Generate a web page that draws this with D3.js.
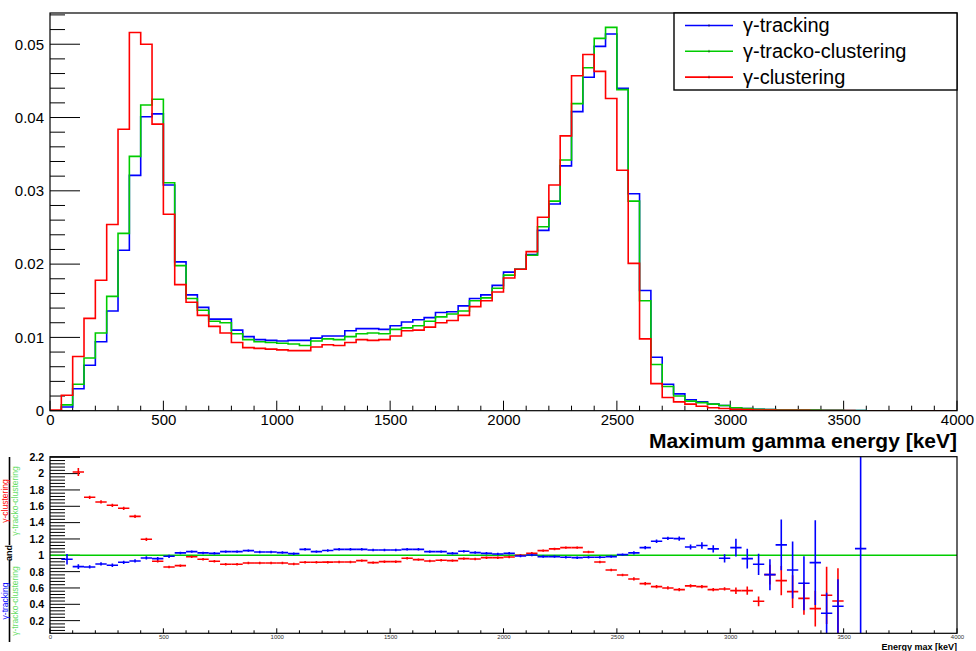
<!DOCTYPE html>
<html><head><meta charset="utf-8">
<script src="https://cdn.jsdelivr.net/npm/d3@7"></script>
<style>
html,body{margin:0;padding:0;background:#fff;}
svg{display:block;font-family:"Liberation Sans",Arial,Helvetica,sans-serif;}
</style></head>
<body><svg id="c" width="976" height="651"></svg>
<script>
// ---------------- DATA ----------------
const binWidth = 50;          // keV
const xMax = 4000;
const seriesNames = ["\u03b3-tracking", "\u03b3-tracko-clustering", "\u03b3-clustering"];

const tracking = [0,0.0005,0.0030,0.0062,0.0094,0.0136,0.0219,0.0321,0.0401,0.0405,
  0.0308,0.0203,0.0158,0.0141,0.0125,0.0125,0.0110,0.0101,0.0097,0.0096,
  0.0095,0.0096,0.0096,0.0099,0.0102,0.0102,0.0109,0.0112,0.0112,0.0111,
  0.0116,0.0121,0.0124,0.0127,0.0134,0.0135,0.0143,0.0153,0.0158,0.0171,
  0.0189,0.0193,0.0213,0.0246,0.0282,0.0334,0.0408,0.0455,0.0497,0.0514,
  0.0440,0.0296,0.0164,0.0073,0.0036,0.0023,0.0015,0.0012,0.0009,0.0007,
  0.0004,0.0003,0.0002,0.00015,0.0001,0.0001,0.0001,0.00008,0.00006,0.00005,
  0.00003,0.00003,0,0,0,0,0,0,0,0];
const trackoClustering = [0,0.0008,0.0036,0.0072,0.0106,0.0156,0.0242,0.0347,0.0417,0.0425,
  0.0311,0.0198,0.0153,0.0137,0.0122,0.0120,0.0105,0.0097,0.0094,0.0093,
  0.0092,0.0091,0.0089,0.0095,0.0098,0.0097,0.0101,0.0105,0.0106,0.0105,
  0.0111,0.0113,0.0116,0.0122,0.0128,0.0132,0.0136,0.0150,0.0154,0.0167,
  0.0185,0.0193,0.0212,0.0251,0.0286,0.0342,0.0419,0.0468,0.0508,0.0523,
  0.0438,0.0286,0.0150,0.0063,0.0033,0.0020,0.0013,0.0011,0.0009,0.0007,
  0.0004,0.0003,0.0002,0.00015,0.0001,0.0001,0.0001,0.00008,0.00006,0.00005,
  0.00003,0.00003,0,0,0,0,0,0,0,0];
const clustering = [0.0001,0.0021,0.0074,0.0126,0.0178,0.0254,0.0384,0.0516,0.0500,0.0391,
  0.0268,0.0172,0.0148,0.0130,0.0115,0.0106,0.0093,0.0086,0.0085,0.0084,
  0.0083,0.0082,0.0082,0.0087,0.0090,0.0089,0.0093,0.0097,0.0096,0.0097,
  0.0102,0.0109,0.0110,0.0114,0.0120,0.0123,0.0130,0.0142,0.0150,0.0162,
  0.0181,0.0193,0.0217,0.0264,0.0308,0.0375,0.0457,0.0486,0.0463,0.0426,
  0.0328,0.0201,0.0098,0.0037,0.0018,0.0012,0.0009,0.0006,0.0004,0.0003,
  0.0002,0.00015,0.0001,0.0001,0.00005,0.00005,0.00004,0.00003,0.00002,0.00002,
  0.00001,0,0,0,0,0,0,0,0,0];

// ratio panel: tracking / tracko-clustering (blue), clustering / tracko-clustering (red)
const ratioTracking = [null,0.951,0.861,0.857,0.894,0.878,0.914,0.931,0.967,0.959,
  0.988,1.029,1.045,1.029,1.024,1.045,1.045,1.057,1.041,1.041,
  1.033,1.020,1.073,1.045,1.058,1.073,1.073,1.073,1.065,1.065,
  1.065,1.073,1.073,1.045,1.045,1.024,1.049,1.033,1.024,1.016,
  1.024,0.992,1.004,0.984,0.984,0.976,0.971,0.976,0.976,0.984,
  1.008,1.029,1.094,1.172,1.208,1.204,1.102,1.120,1.078,0.963,
  1.094,0.959,0.890,0.763,1.127,0.820,0.657,0.910,0.290,0.376,
  null,1.082,null,null,null,null,null,null,null,null];
const ratioTrackingErr = [null,0.065,0.03,0.02,0.02,0.02,0.02,0.02,0.02,0.02,
  0.02,0.015,0.015,0.015,0.015,0.015,0.015,0.015,0.015,0.015,
  0.015,0.015,0.015,0.015,0.015,0.015,0.015,0.015,0.015,0.015,
  0.015,0.015,0.015,0.015,0.015,0.015,0.015,0.015,0.015,0.015,
  0.015,0.015,0.015,0.015,0.015,0.015,0.015,0.015,0.015,0.015,
  0.015,0.02,0.02,0.02,0.02,0.025,0.03,0.04,0.045,0.05,
  0.11,0.12,0.13,0.19,0.31,0.35,0.33,0.52,0.25,0.33,
  null,1.5,null,null,null,null,null,null,null,null];
const ratioClustering = [null,null,2.02,1.71,1.653,1.612,1.575,1.477,1.196,0.927,
  0.857,0.873,0.983,0.951,0.927,0.890,0.890,0.906,0.906,0.906,
  0.906,0.894,0.914,0.914,0.916,0.918,0.918,0.935,0.910,0.922,
  0.922,0.963,0.947,0.931,0.939,0.935,0.959,0.955,0.971,0.971,
  0.980,1.000,1.024,1.057,1.078,1.094,1.094,1.041,0.918,0.820,
  0.759,0.710,0.653,0.616,0.600,0.580,0.625,0.616,0.580,0.588,
  0.567,0.567,0.437,0.763,0.690,0.555,0.473,0.347,0.510,0.441,
  null,null,null,null,null,null,null,null,null,null];
const ratioClusteringErr = [null,null,0.05,0.02,0.02,0.02,0.02,0.02,0.02,0.015,
  0.015,0.015,0.015,0.015,0.015,0.015,0.015,0.015,0.015,0.015,
  0.015,0.015,0.015,0.015,0.015,0.015,0.015,0.015,0.015,0.015,
  0.015,0.015,0.015,0.015,0.015,0.015,0.015,0.015,0.015,0.015,
  0.015,0.015,0.015,0.015,0.015,0.015,0.015,0.015,0.015,0.015,
  0.015,0.02,0.02,0.02,0.02,0.02,0.02,0.02,0.02,0.02,
  0.04,0.05,0.06,0.12,0.18,0.2,0.2,0.22,0.35,0.4,
  null,null,null,null,null,null,null,null,null,null];

const topYTicks = [0, 0.01, 0.02, 0.03, 0.04, 0.05];
const xTicks = [0, 500, 1000, 1500, 2000, 2500, 3000, 3500, 4000];
const ratioYTicks = [0.2,0.4,0.6,0.8,1,1.2,1.4,1.6,1.8,2,2.2];

const colors = {tracking:"#0000ff", tracko:"#00cc00", clustering:"#ff0000"};

// ---------------- LAYOUT ----------------
const svg = d3.select("#c");
const L = 50, R = 957;
const topT = 13, topB = 410.7;
const botT = 456.7, botB = 633.3;

const x = d3.scaleLinear().domain([0, xMax]).range([L, R]);
const yTop = d3.scaleLinear().domain([0, 0.05426]).range([topB, topT]);
const yBot = d3.scaleLinear().domain([0.045, 2.207]).range([botB, botT]);

const edges = d3.range(0, xMax, binWidth);

// ---------- TOP PANEL ----------
const gTop = svg.append("g");
const defs = svg.append("defs");
defs.append("clipPath").attr("id","clipTop")
  .append("rect").attr("x",L).attr("y",topT).attr("width",R-L).attr("height",topB-topT);
defs.append("clipPath").attr("id","clipBot")
  .append("rect").attr("x",L).attr("y",botT).attr("width",R-L).attr("height",botB-botT);

const yAxisTop = d3.axisLeft(yTop).tickValues(topYTicks)
  .tickFormat(d => d === 0 ? "0" : d3.format(".2f")(d)).tickSize(0).tickPadding(6);
const gyt = gTop.append("g").attr("transform",`translate(${L},0)`).call(yAxisTop);
gyt.select(".domain").remove();
gyt.selectAll("text").attr("font-size",15).attr("fill","#000")
  .attr("font-family","Liberation Sans, Arial, sans-serif");
const yMinorTop = d3.range(0, 0.0545, 0.002);
gTop.append("g").selectAll("line").data(yMinorTop).join("line")
  .attr("x1",L).attr("x2",(d,i)=> i%5===0 ? L+30 : L+15)
  .attr("y1",d=>yTop(d)).attr("y2",d=>yTop(d)).attr("stroke","#000").attr("stroke-width",1);

const xMinor = d3.range(0, xMax+1, 100);
gTop.append("g").selectAll("line").data(xMinor).join("line")
  .attr("x1",d=>x(d)).attr("x2",d=>x(d))
  .attr("y1",topB).attr("y2",(d)=> d%500===0 ? topB-10 : topB-5)
  .attr("stroke","#000").attr("stroke-width",1);
const xAxisTop = d3.axisBottom(x).tickValues(xTicks).tickSize(0).tickPadding(4).tickFormat(d3.format("d"));
const gxt = gTop.append("g").attr("transform",`translate(0,${topB})`).call(xAxisTop);
gxt.select(".domain").remove();
gxt.selectAll("text").attr("font-size",15).attr("fill","#000")
  .attr("font-family","Liberation Sans, Arial, sans-serif");

function stepPoints(vals){
  const pts = [[0,0]];
  vals.forEach((v,i)=> pts.push([edges[i], v]));
  pts.push([xMax, vals[vals.length-1]]);
  pts.push([xMax, 0]);
  return pts;
}
const line = d3.line().x(d=>x(d[0])).y(d=>yTop(d[1])).curve(d3.curveStepAfter);
const gHist = gTop.append("g").attr("clip-path","url(#clipTop)");
[[tracking,colors.tracking],[trackoClustering,colors.tracko],[clustering,colors.clustering]].forEach(([vals,col])=>{
  gHist.append("path").attr("d", line(stepPoints(vals)))
    .attr("fill","none").attr("stroke",col).attr("stroke-width",1.6);
});

gTop.append("rect").attr("x",L).attr("y",topT).attr("width",R-L).attr("height",topB-topT)
  .attr("fill","none").attr("stroke","#000").attr("stroke-width",1.2);

// legend
const lg = gTop.append("g");
lg.append("rect").attr("x",674).attr("y",topT).attr("width",R-674).attr("height",90-topT)
  .attr("fill","#fff").attr("stroke","#000").attr("stroke-width",1.4);
const legendItems = [[seriesNames[0],colors.tracking],[seriesNames[1],colors.tracko],[seriesNames[2],colors.clustering]];
legendItems.forEach(([name,col],i)=>{
  const cy = 25.5 + i*25.8;
  lg.append("line").attr("x1",685).attr("x2",733).attr("y1",cy).attr("y2",cy)
    .attr("stroke",col).attr("stroke-width",1.6);
  lg.append("line").attr("x1",709).attr("x2",709).attr("y1",cy-1.5).attr("y2",cy+1.5)
    .attr("stroke","#000").attr("stroke-width",0.8).attr("opacity",0.6);
  lg.append("text").attr("x",743).attr("y",cy+6.8).attr("font-size",20).text(name);
});

svg.append("text").attr("x",R).attr("y",448).attr("text-anchor","end")
  .attr("font-size",21).attr("font-weight","bold").text("Maximum gamma energy [keV]");

// ---------- BOTTOM PANEL ----------
const gBot = svg.append("g");
const yMinorBot = d3.range(0.08, 2.21, 0.04);
gBot.append("g").selectAll("line").data(yMinorBot).join("line")
  .attr("x1",L).attr("x2",(d)=> Math.abs(Math.round(d*100)%20) < 1 ? L+30 : L+15)
  .attr("y1",d=>yBot(d)).attr("y2",d=>yBot(d)).attr("stroke","#000").attr("stroke-width",1);
const yAxisBot = d3.axisLeft(yBot).tickValues(ratioYTicks).tickSize(0).tickPadding(6)
  .tickFormat(d => d3.format("")(+d.toFixed(1)));
const gyb = gBot.append("g").attr("transform",`translate(${L},0)`).call(yAxisBot);
gyb.select(".domain").remove();
gyb.selectAll("text").attr("font-size",10.5).attr("font-weight","bold").attr("fill","#000")
  .attr("font-family","Liberation Sans, Arial, sans-serif");

gBot.append("g").selectAll("line").data(xMinor).join("line")
  .attr("x1",d=>x(d)).attr("x2",d=>x(d))
  .attr("y1",botB).attr("y2",(d)=> d%500===0 ? botB-5 : botB-3)
  .attr("stroke","#000").attr("stroke-width",1);
const xAxisBot = d3.axisBottom(x).tickValues(xTicks).tickSize(0).tickPadding(1).tickFormat(d3.format("d"));
const gxb = gBot.append("g").attr("transform",`translate(0,${botB})`).call(xAxisBot);
gxb.select(".domain").remove();
gxb.selectAll("text").attr("font-size",6).attr("fill","#333")
  .attr("font-family","Liberation Sans, Arial, sans-serif");

gBot.append("line").attr("x1",L).attr("x2",R).attr("y1",yBot(1)).attr("y2",yBot(1))
  .attr("stroke",colors.tracko).attr("stroke-width",1.5);

const gPts = gBot.append("g").attr("clip-path","url(#clipBot)");
function drawRatio(vals, errs, col){
  const data = vals.map((v,i)=>({v, e:errs[i], i})).filter(d=>d.v!==null);
  const g = gPts.append("g");
  g.selectAll("line.h").data(data).join("line").attr("class","h")
    .attr("x1",d=>x(edges[d.i])).attr("x2",d=>x(edges[d.i]+binWidth))
    .attr("y1",d=>yBot(d.v)).attr("y2",d=>yBot(d.v))
    .attr("stroke",col).attr("stroke-width",1.6);
  g.selectAll("line.v").data(data).join("line").attr("class","v")
    .attr("x1",d=>x(edges[d.i]+binWidth/2)).attr("x2",d=>x(edges[d.i]+binWidth/2))
    .attr("y1",d=>yBot(d.v-d.e)).attr("y2",d=>yBot(d.v+d.e))
    .attr("stroke",col).attr("stroke-width",1.6);
}
drawRatio(ratioClustering, ratioClusteringErr, colors.clustering);
drawRatio(ratioTracking, ratioTrackingErr, colors.tracking);

gBot.append("rect").attr("x",L).attr("y",botT).attr("width",R-L).attr("height",botB-botT)
  .attr("fill","none").attr("stroke","#000").attr("stroke-width",1.2);

svg.append("text").attr("x",R).attr("y",650).attr("text-anchor","end")
  .attr("font-size",9).attr("font-weight","bold").text("Energy max [keV]");

// rotated y label (two fractions)
function frac(cx, yTopF, yBotF, num, numCol, den, denCol){
  const g = svg.append("g");
  const mid = (yTopF+yBotF)/2;
  g.append("line").attr("x1",cx).attr("x2",cx).attr("y1",yTopF).attr("y2",yBotF)
    .attr("stroke","#000").attr("stroke-width",1.6);
  g.append("text").attr("transform",`translate(${cx-1.8},${mid}) rotate(-90)`)
    .attr("text-anchor","middle").attr("font-size",8.5).attr("fill",numCol).text(num);
  g.append("text").attr("transform",`translate(${cx+8.5},${mid}) rotate(-90)`)
    .attr("text-anchor","middle").attr("font-size",8.5).attr("fill",denCol).text(den);
}
frac(9.5, 457, 545, seriesNames[2], colors.clustering, seriesNames[1], "#66dd66");
svg.append("text").attr("transform",`translate(${12},553) rotate(-90)`)
  .attr("text-anchor","middle").attr("font-size",9).attr("font-weight","bold").text("and");
frac(9.5, 560, 642, seriesNames[0], colors.tracking, seriesNames[1], "#66dd66");
</script></body></html>
